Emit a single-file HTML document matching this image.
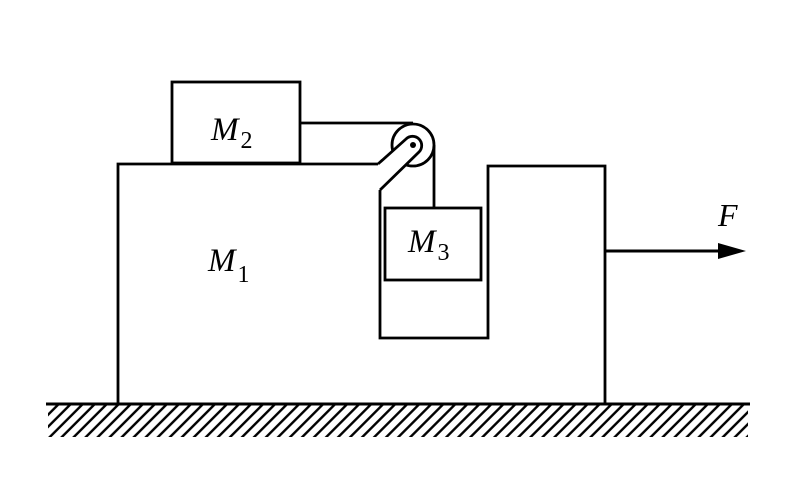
<!DOCTYPE html>
<html><head><style>body{margin:0;background:#fff}</style></head><body>
<svg width="800" height="482" viewBox="0 0 800 482" xmlns="http://www.w3.org/2000/svg">
<defs><pattern id="h" width="8.5" height="12" patternUnits="userSpaceOnUse" patternTransform="rotate(45)"><line x1="4.25" y1="0" x2="4.25" y2="12" stroke="#000" stroke-width="2.4"/></pattern>
<clipPath id="c"><rect x="48" y="405" width="700" height="32"/></clipPath></defs>
<rect x="48" y="405" width="700" height="32" fill="url(#h)" clip-path="url(#c)"/>
<g fill="none" stroke="#000" stroke-width="2.8">
<line x1="46" y1="404" x2="750" y2="404" stroke-width="3"/>
<polyline points="118,404 118,164 378,164"/>
<polyline points="380,190 380,338 488,338 488,166 605,166 605,404"/>
<rect x="172" y="82" width="128" height="81"/>
<rect x="385" y="208" width="96" height="72"/>
<line x1="300" y1="123" x2="413" y2="123"/>
<line x1="434" y1="145" x2="434" y2="208"/>
<circle cx="413" cy="145" r="21" fill="#fff"/>
<path d="M378,164 L406,139 A9,9 0 0 1 419,152 L380,190" fill="#fff"/>
<line x1="605" y1="251" x2="722" y2="251" stroke-width="3"/>
</g>
<circle cx="413" cy="145" r="3" fill="#000"/>
<polygon points="718,243 746,251 718,259" fill="#000"/>
<g font-family="Liberation Serif,serif" font-style="italic" fill="#000">
<text x="208" y="271" font-size="33">M<tspan font-style="normal" font-size="24" dx="2" dy="11">1</tspan></text>
<text x="211" y="140" font-size="33">M<tspan font-style="normal" font-size="24" dx="2" dy="8">2</tspan></text>
<text x="408" y="252" font-size="33">M<tspan font-style="normal" font-size="24" dx="2" dy="8">3</tspan></text>
<text x="718" y="226" font-size="32">F</text>
</g>
</svg>
</body></html>
